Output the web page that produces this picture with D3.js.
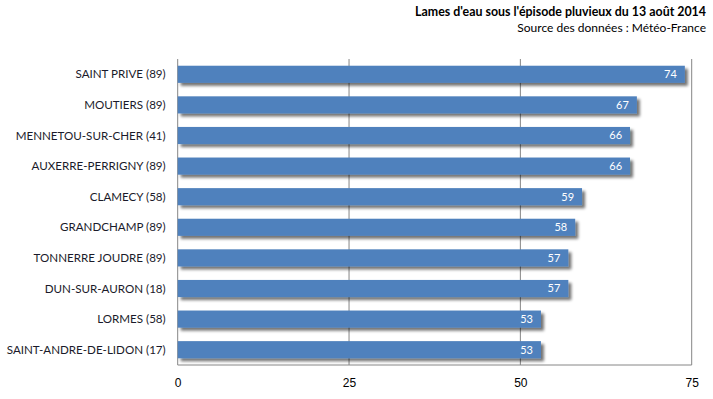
<!DOCTYPE html>
<meta charset="utf-8">
<head>
  <style>
    body { margin: 0; background: #fff; }
    svg { font-family: Lato, "Open Sans", sans-serif; }
    .cat { font-size: 11.6px; fill: #1a1a2a; }
    .tick text { font-size: 12px; fill: #000; }
    .val { font-size: 11px; fill: #fff; }
    .title { font-size: 12.4px; font-weight: bold; fill: #000; }
    .sub { font-size: 12px; fill: #000; }
  </style>
  <script src="https://cdn.jsdelivr.net/npm/d3@7"></script>
</head>
<body>
  <script>
    // stations and rainfall (mm)
    var stations = ["SAINT PRIVE (89)", "MOUTIERS (89)", "MENNETOU-SUR-CHER (41)", "AUXERRE-PERRIGNY (89)",
                    "CLAMECY (58)", "GRANDCHAMP (89)", "TONNERRE JOUDRE (89)", "DUN-SUR-AURON (18)",
                    "LORMES (58)", "SAINT-ANDRE-DE-LIDON (17)"];
    var values = [74, 67, 66, 66, 59, 58, 57, 57, 53, 53];
    var ticks = [0, 25, 50, 75];

    var width = 713, height = 399
      , pLeft = 177.7, pRight = 691.7, pTop = 59, pBottom = 365;

    var svg = d3.select("body").append("svg")
        .attr("width", width)
        .attr("height", height);

    var defs = svg.append("defs");
    var f = defs.append("filter").attr("id", "shadow")
        .attr("x", "-5%").attr("y", "-50%").attr("width", "115%").attr("height", "250%");
    f.append("feGaussianBlur").attr("in", "SourceAlpha").attr("stdDeviation", 1.6).attr("result", "b");
    f.append("feOffset").attr("in", "b").attr("dx", 3).attr("dy", 3).attr("result", "o");
    f.append("feComponentTransfer").attr("in", "o").attr("result", "s")
      .append("feFuncA").attr("type", "linear").attr("slope", 0.55);
    var m = f.append("feMerge");
    m.append("feMergeNode").attr("in", "s");
    m.append("feMergeNode").attr("in", "SourceGraphic");

    var x = d3.scaleLinear().domain([0, 75]).range([pLeft, pRight]);
    var y = d3.scaleBand().domain(stations).range([pTop, pBottom]).paddingInner(0.44).paddingOuter(0.22);

    // gridlines
    svg.selectAll(".grid").data(ticks.slice(1))
      .enter().append("line")
        .attr("x1", function(d){ return x(d); })
        .attr("x2", function(d){ return x(d); })
        .attr("y1", pTop).attr("y2", pBottom)
        .attr("stroke", "#868686").attr("stroke-width", 1);

    svg.append("line")
        .attr("x1", pLeft).attr("x2", pRight).attr("y1", pBottom).attr("y2", pBottom)
        .attr("stroke", "#868686");
    svg.append("line")
        .attr("x1", pLeft).attr("x2", pLeft).attr("y1", pTop).attr("y2", pBottom)
        .attr("stroke", "#868686");

    // bars
    svg.selectAll(".bar").data(values)
      .enter().append("rect")
        .attr("class", "bar")
        .attr("x", x(0))
        .attr("y", function(d, i){ return y(stations[i]); })
        .attr("width", function(d){ return x(d) - x(0); })
        .attr("height", y.bandwidth())
        .attr("fill", "#4f81bd")
        .attr("filter", "url(#shadow)");

    svg.selectAll(".val").data(values)
      .enter().append("text")
        .attr("class", "val")
        .attr("x", function(d){ return x(d) - 8; })
        .attr("y", function(d, i){ return y(stations[i]) + y.bandwidth() / 2; })
        .attr("dy", "0.35em")
        .attr("text-anchor", "end")
        .text(function(d){ return d; });

    svg.selectAll(".cat").data(stations)
      .enter().append("text")
        .attr("class", "cat")
        .attr("x", pLeft - 12)
        .attr("y", function(d){ return y(d) + y.bandwidth() / 2; })
        .attr("dy", "0.35em")
        .attr("text-anchor", "end")
        .text(function(d){ return d; });

    // x axis labels
    var ax = svg.append("g")
        .attr("transform", "translate(0," + pBottom + ")")
        .call(d3.axisBottom(x).tickValues(ticks).tickSize(0).tickPadding(13));
    ax.select(".domain").remove();

    svg.append("text").attr("class", "title")
        .attr("x", 706).attr("y", 16).attr("text-anchor", "end")
        .text("Lames d'eau sous l'épisode pluvieux du 13 août 2014");
    svg.append("text").attr("class", "sub")
        .attr("x", 706).attr("y", 32).attr("text-anchor", "end")
        .text("Source des données : Météo-France");
  </script>
</body>
